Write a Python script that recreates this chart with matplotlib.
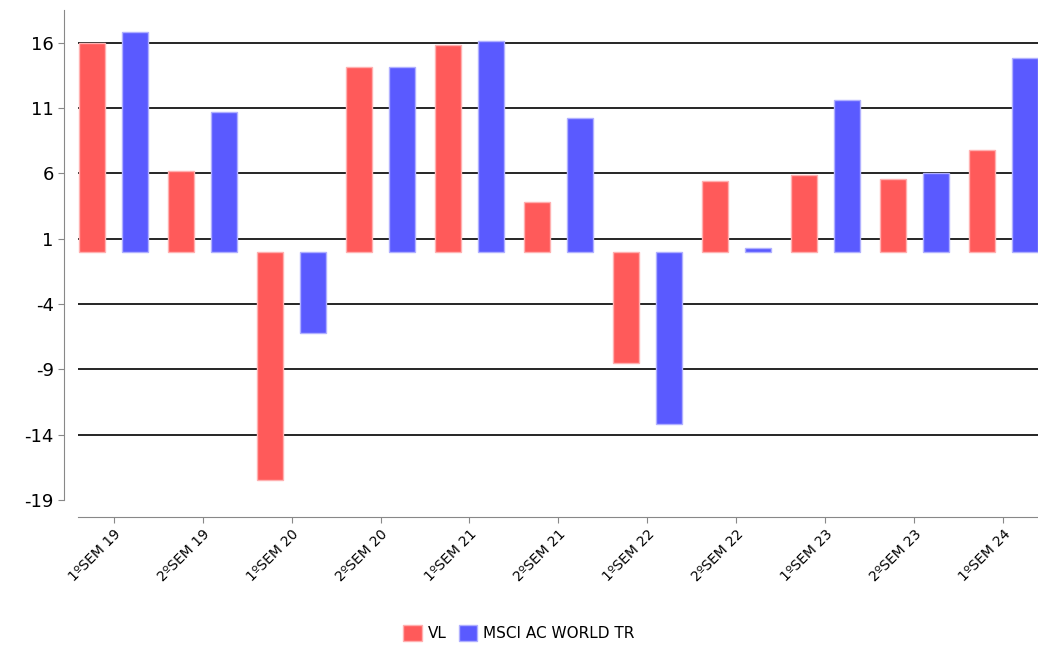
import numpy as np
import matplotlib.pyplot as plt

plt.rcParams['axes.unicode_minus'] = False

periodos = ['1ºSEM 19', '2ºSEM 19', '1ºSEM 20', '2ºSEM 20', '1ºSEM 21', '2ºSEM 21',
            '1ºSEM 22', '2ºSEM 22', '1ºSEM 23', '2ºSEM 23', '1ºSEM 24']
vl = [16.0, 6.15, -17.5, 14.1, 15.8, 3.8, -8.5, 5.4, 5.9, 5.6, 7.8]
msci = [16.85, 10.7, -6.2, 14.1, 16.1, 10.2, -13.2, 0.3, 11.6, 6.0, 14.8]
ticks_y = [16, 11, 6, 1, -4, -9, -14, -19]

fig = plt.figure(figsize=(10.38, 6.55), dpi=100)
ax = fig.add_axes([78 / 1038, 155 / 655, 960 / 1038, 490 / 655])

# spines first: set_position resets the ticks
for s in ['top', 'right']:
    ax.spines[s].set_visible(False)
ax.spines['left'].set_position(('outward', 10))
ax.spines['bottom'].set_position(('outward', 12))
ax.spines['left'].set_color('#888888')
ax.spines['bottom'].set_color('#888888')

x = np.arange(len(periodos))
ax.bar(x - 0.24, vl, width=0.29, color='#ff5a5a', edgecolor='#ffb0b0', linewidth=1, zorder=3, label='VL')
ax.bar(x + 0.24, msci, width=0.29, color='#5a5aff', edgecolor='#b0b0ff', linewidth=1, zorder=3, label='MSCI AC WORLD TR')

ax.set_xlim(-0.4, 10.39)
ax.set_ylim(-19, 18.5)
ax.set_yticks(ticks_y)
for t in ticks_y[:-1]:
    ax.axhline(t, color='black', linewidth=1.2, zorder=1)

ax.set_xticks(x)
ax.set_xticklabels(periodos, fontsize=10, rotation=45, ha='right', rotation_mode='anchor')
ax.tick_params(axis='y', labelsize=13, length=4, color='#888888')
ax.tick_params(axis='x', length=4, color='#888888')

fig.legend(loc='lower center', bbox_to_anchor=(0.5, 0.0), ncol=2, frameon=False,
           fontsize=11, handlelength=1.2, handleheight=1.2, columnspacing=0.8, handletextpad=0.4)

plt.savefig('out.png', dpi=100)
